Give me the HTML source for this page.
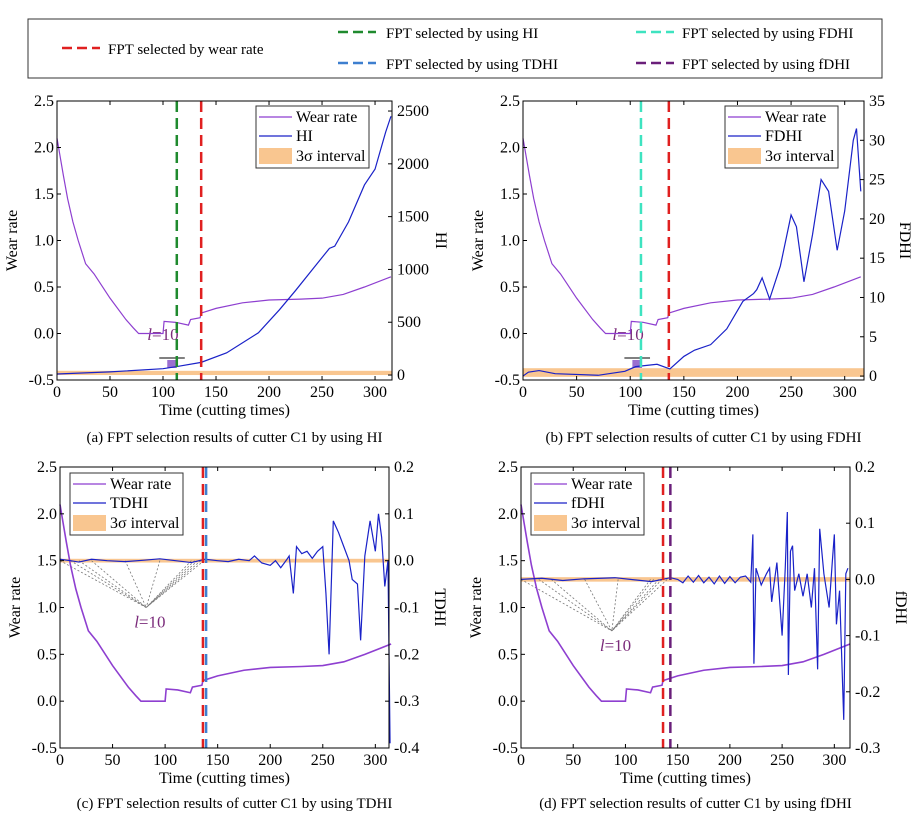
<!DOCTYPE html>
<html><head><meta charset="utf-8"><style>
body{margin:0;background:#fff;}
svg{display:block;font-family:"Liberation Serif",serif;}
</style></head><body>
<svg id="fig" width="924" height="831" viewBox="0 0 924 831">
<g>
<rect x="28" y="19" width="854" height="59" fill="#fff" stroke="#333" stroke-width="1"/>
<line x1="62" y1="48" x2="100" y2="48" stroke="#e02020" stroke-width="2.5" stroke-dasharray="10,5"/>
<text x="108" y="54" font-size="15">FPT selected by wear rate</text>
<line x1="338" y1="32" x2="376" y2="32" stroke="#1f8a2e" stroke-width="2.5" stroke-dasharray="10,5"/>
<text x="386" y="38" font-size="15">FPT selected by using HI</text>
<line x1="338" y1="63" x2="376" y2="63" stroke="#3d7fcf" stroke-width="2.5" stroke-dasharray="10,5"/>
<text x="386" y="69" font-size="15">FPT selected by using TDHI</text>
<line x1="636" y1="32" x2="674" y2="32" stroke="#3ee3c0" stroke-width="2.5" stroke-dasharray="10,5"/>
<text x="682" y="38" font-size="15">FPT selected by using FDHI</text>
<line x1="636" y1="63" x2="674" y2="63" stroke="#6a1f7a" stroke-width="2.5" stroke-dasharray="10,5"/>
<text x="682" y="69" font-size="15">FPT selected by using fDHI</text>
</g>
</svg>
<script>
// shared wear-rate series
const wearX=[0,3,6,10,15,20,27,35,50,65,72,77,100,101,112,124,126,135,136,150,175,200,230,250,270,290,315];
const wearY=[2.1,1.9,1.7,1.45,1.2,1.0,0.75,0.64,0.38,0.15,0.06,0.0,0.0,0.13,0.12,0.09,0.15,0.17,0.22,0.27,0.33,0.36,0.37,0.38,0.42,0.5,0.61];
// HI
const hiX=[0,50,100,113,136,160,190,210,225,245,257,262,275,290,300,310,315];
const hiY=[10,30,60,80,120,210,400,620,800,1050,1200,1220,1450,1800,1950,2300,2450];
// FDHI
const fdX=[0,5,15,30,70,95,105,125,137,150,160,175,190,205,215,218,223,230,240,250,255,262,270,278,285,293,300,308,311,315];
const fdY=[0,0.5,0.7,0.3,0.1,0.6,1.2,1.5,0.9,2.5,3.3,4,6,9.5,10.5,11,12.5,9.8,14,20.5,19,12,18,25,23.5,16,21,30,31.5,23.5];
// TDHI
const tdX=[0,10,18,30,45,62,80,95,110,125,138,150,160,170,180,185,192,200,205,210,215,218,222,225,230,235,240,245,250,253,256,260,265,270,275,278,283,286,290,295,300,303,306,309,312,314];
const tdY=[0.003,0.0,-0.003,0.003,0.0,-0.002,0.001,0.004,0.0,-0.004,0.003,0.0,-0.002,0.003,0.0,0.01,-0.005,-0.01,0.0,-0.015,0.0,0.01,-0.07,0.03,0.015,0.02,0.005,0.02,0.03,-0.07,-0.2,0.085,0.06,0.03,0.0,-0.04,-0.05,-0.17,0.01,0.085,0.02,0.1,0.05,-0.055,0.0,-0.39];
// fDHI
const ffX=[0,20,40,60,90,125,143,150,155,160,165,170,175,180,185,190,195,200,205,210,215,220,222,223,225,230,235,238,240,245,250,253,255,256,258,260,262,266,270,274,278,281,284,286,290,295,298,300,302,305,309,311,313];
const ffY=[0,0.002,-0.002,0.001,0.003,-0.004,0.003,0.0,-0.006,0.006,-0.005,0.007,-0.006,0.004,-0.008,0.006,-0.007,0.005,-0.006,0.004,0.006,-0.005,0.08,-0.15,0.02,-0.01,0.01,0.02,-0.04,0.03,-0.1,0.02,0.12,-0.17,0.05,0.06,-0.02,0.01,-0.03,0.01,-0.05,0.02,-0.16,0.09,0.01,-0.05,0.03,0.08,-0.08,-0.02,-0.25,0.01,0.02];
const fig=document.getElementById('fig');
const NS='http://www.w3.org/2000/svg';
function mk(tag,attrs,parent){const e=document.createElementNS(NS,tag);for(const k in attrs)e.setAttribute(k,attrs[k]);(parent||fig).appendChild(e);return e;}
function panel(p){
 const g=mk('g',{});
 
 
 const X=v=>p.l+(v-0)/(p.xmax)*(p.r-p.l);
 const YL=v=>p.b-(v+0.5)/3*(p.b-p.t);
 const YR=v=>p.b-(v-p.rmin)/(p.rmax-p.rmin)*(p.b-p.t);
 const band=mk('rect',{x:X(0),y:YR(p.band[1]),width:p.r-X(0),height:YR(p.band[0])-YR(p.band[1]),fill:'#f9c690'},g);
 
 
 if(p.ann){
  for(const ax of p.ann.pts){mk('line',{x1:X(ax),y1:YR(0),x2:X(p.ann.vx),y2:YL(p.ann.vy),stroke:'#777','stroke-width':0.8,'stroke-dasharray':'2,2'},g);}
  const t=mk('text',{x:X(p.ann.vx)-12,y:YL(p.ann.vy)+20,'font-size':17,fill:'#7b2c7b'},g);t.innerHTML='<tspan font-style="italic">l</tspan>=10';
 }
 if(p.bar){
  const bx=X(p.bar[0]),bx2=X(p.bar[1]),by=p.b-16;
  mk('rect',{x:bx,y:by-4,width:bx2-bx,height:8,fill:'#9b6fd0'},g);
  mk('line',{x1:bx-8,y1:by-6,x2:bx2+8,y2:by-6,stroke:'#000','stroke-width':1},g);
  const t=mk('text',{x:bx-20,y:by-24,'font-size':17,fill:'#7b2c7b'},g);t.innerHTML='<tspan font-style="italic">l</tspan>=10';
 }
 const ser=(xs,ys,Y,color,nm,w)=>{const pl=mk('polyline',{points:xs.map((x,i)=>X(x)+','+Y(ys[i])).join(' '),fill:'none',stroke:color,'stroke-width':w||1.2},g);};
 ser(wearX,wearY,YL,'#8e3fd0','wear-rate-line',p.ww||1.2);
 ser(p.sx,p.sy,YR,'#1a22c8',p.sname+'-line',1.2);
 for(const f of p.fpt){const l=mk('line',{x1:X(f[0]),y1:p.t,x2:X(f[0]),y2:p.b,stroke:f[1],'stroke-width':2.5,'stroke-dasharray':'11,6'},g);}
 mk('rect',{x:p.l,y:p.t,width:p.r-p.l,height:p.b-p.t,fill:'none',stroke:'#000','stroke-width':1},g);
 for(let v=0;v<=300;v+=50){mk('line',{x1:X(v),y1:p.b,x2:X(v),y2:p.b-4,stroke:'#000'},g);mk('line',{x1:X(v),y1:p.t,x2:X(v),y2:p.t+4,stroke:'#000'},g);const t=mk('text',{x:X(v),y:p.b+17,'font-size':16,'text-anchor':'middle'},g);t.textContent=v;}
 const lt=['-0.5','0.0','0.5','1.0','1.5','2.0','2.5'];
 lt.forEach(s=>{const v=parseFloat(s);mk('line',{x1:p.l,y1:YL(v),x2:p.l+4,y2:YL(v),stroke:'#000'},g);const t=mk('text',{x:p.l-3,y:YL(v)+5,'font-size':16,'text-anchor':'end'},g);t.textContent=s;});
 p.rt.forEach(s=>{const v=parseFloat(s);mk('line',{x1:p.r,y1:YR(v),x2:p.r-4,y2:YR(v),stroke:'#000'},g);const t=mk('text',{x:p.r+5,y:YR(v)+5,'font-size':16},g);t.textContent=s;});
 const xl=mk('text',{x:(p.l+p.r)/2,y:p.b+35,'font-size':16,'text-anchor':'middle'},g);xl.textContent='Time (cutting times)';
 
 const cy=(p.t+p.b)/2;
 const yl=mk('text',{x:p.l-40,y:cy,'font-size':16,'text-anchor':'middle',transform:`rotate(-90 ${p.l-40} ${cy})`},g);yl.textContent='Wear rate';
 
 const rx=p.r+p.rlab;
 const yr=mk('text',{x:rx,y:cy,'font-size':16,'text-anchor':'middle',transform:`rotate(90 ${rx} ${cy})`},g);yr.textContent=p.sname;
 
 const cap=mk('text',{x:(p.l+p.r)/2+10,y:p.cap,'font-size':15,'text-anchor':'middle'},g);cap.textContent=p.caption;
 
 const lg=mk('g',{},g);
 const lx=p.lg[0],ly=p.lg[1];
 mk('rect',{x:lx,y:ly,width:113,height:62,fill:'#fff',stroke:'#333'},lg);
 mk('line',{x1:lx+3,y1:ly+11,x2:lx+36,y2:ly+11,stroke:'#8e3fd0','stroke-width':1.2},lg);
 mk('line',{x1:lx+3,y1:ly+30,x2:lx+36,y2:ly+30,stroke:'#1a22c8','stroke-width':1.2},lg);
 mk('rect',{x:lx+3,y:ly+42,width:33,height:16,fill:'#f9c690'},lg);
 [['Wear rate',16],[p.sname,35],['3σ interval',55]].forEach(a=>{const t=mk('text',{x:lx+40,y:ly+a[1],'font-size':16},lg);t.textContent=a[0];});
}
panel({name:'panel-a-hi',l:57,r:392,t:101,b:380,xmax:316,rmin:-47,rmax:2595,sx:hiX,sy:hiY,sname:'HI',band:[0,40],
 rt:['0','500','1000','1500','2000','2500'],rlab:44,fpt:[[113,'#1f8a2e'],[136,'#e02020']],bar:[104,113],lg:[256,106],cap:442,
 caption:'(a) FPT selection results of cutter C1 by using HI'});
panel({name:'panel-b-fdhi',l:523,r:864,t:101,b:380,xmax:318,rmin:-0.5,rmax:35,sx:fdX,sy:fdY,sname:'FDHI',band:[-0.1,1.0],
 rt:['0','5','10','15','20','25','30','35'],rlab:36,fpt:[[110,'#3ee3c0'],[136,'#e02020']],bar:[102,111],lg:[725,106],cap:442,
 caption:'(b) FPT selection results of cutter C1 by using FDHI'});
panel({name:'panel-c-tdhi',l:60,r:389,t:467,b:748,xmax:313,rmin:-0.4,rmax:0.2,sx:tdX,sy:tdY,sname:'TDHI',band:[-0.004,0.004],
 rt:['-0.4','-0.3','-0.2','-0.1','0.0','0.1','0.2'],rlab:46,fpt:[[136,'#e02020'],[139,'#3d7fcf']],ww:1.6,
 ann:{vx:82,vy:1.0,pts:[0,10,18,30,62,95,125,128,131,134,137]},lg:[70,473],cap:808,
 caption:'(c) FPT selection results of cutter C1 by using TDHI'});
panel({name:'panel-d-fdhi-small',l:521,r:850,t:467,b:748,xmax:315,rmin:-0.3,rmax:0.2,sx:ffX,sy:ffY,sname:'fDHI',band:[-0.004,0.004],
 rt:['-0.3','-0.2','-0.1','0.0','0.1','0.2'],rlab:46,fpt:[[136,'#e02020'],[143,'#6a1f7a']],ww:1.6,
 ann:{vx:87,vy:0.75,pts:[0,17,29,61,93,124,127,132,135,140]},lg:[531,473],cap:808,
 caption:'(d) FPT selection results of cutter C1 by using fDHI'});
</script>
</body></html>
